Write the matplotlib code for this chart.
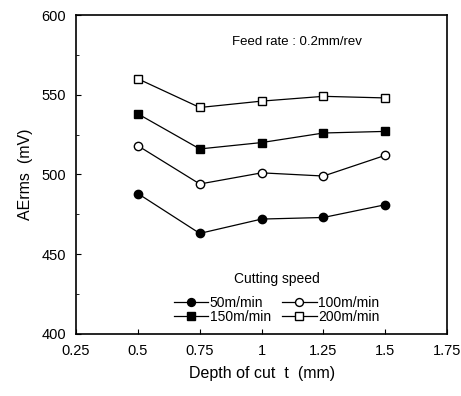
import matplotlib
matplotlib.use("Agg")
import matplotlib.pyplot as plt
from matplotlib.ticker import MultipleLocator

depth = [0.5, 0.75, 1.0, 1.25, 1.5]
ae_50 = [488, 463, 472, 473, 481]
ae_100 = [518, 494, 501, 499, 512]
ae_150 = [538, 516, 520, 526, 527]
ae_200 = [560, 542, 546, 549, 548]
xtick_labels = ["0.25", "0.5", "0.75", "1", "1.25", "1.5", "1.75"]

plt.rcParams["font.family"] = ["Liberation Sans", "DejaVu Sans"]

fig = plt.figure(figsize=(4.61, 3.96), dpi=100)
ax = fig.add_axes([0.165, 0.157, 0.805, 0.805])

kw = dict(color="black", linewidth=0.9, markersize=6)
l50, = ax.plot(depth, ae_50, marker="o", label="50m/min", **kw)
l100, = ax.plot(depth, ae_100, marker="o", markerfacecolor="white", label="100m/min", **kw)
l150, = ax.plot(depth, ae_150, marker="s", label="150m/min", **kw)
l200, = ax.plot(depth, ae_200, marker="s", markerfacecolor="white", label="200m/min", **kw)

ax.set_xlim(0.25, 1.75)
ax.set_ylim(400, 600)
ax.set_xticks([0.25, 0.5, 0.75, 1, 1.25, 1.5, 1.75])
ax.set_xticklabels(xtick_labels)
ax.yaxis.set_major_locator(MultipleLocator(50))
ax.yaxis.set_minor_locator(MultipleLocator(25))
ax.tick_params(direction="in", labelsize=10.5, pad=7)
ax.tick_params(which="minor", direction="in", length=2)
for s in ax.spines.values():
    s.set_linewidth(1.2)

ax.set_xlabel("Depth of cut  t  (mm)", fontsize=11.5, labelpad=6)
ax.set_ylabel("AErms  (mV)", fontsize=11.5, labelpad=6)

ax.text(1.144, 583, "Feed rate : 0.2mm/rev", ha="center", va="center", fontsize=9.5)

handles = [l50, l150, l100, l200]
leg = ax.legend(handles, [h.get_label() for h in handles],
                title="Cutting speed", ncol=2, loc="lower center",
                bbox_to_anchor=(0.54, 0.0), frameon=False, fontsize=10,
                title_fontsize=10, handlelength=2.5, handletextpad=0.1,
                columnspacing=0.8, labelspacing=0.0, borderaxespad=0.3,
                markerscale=0.95)
leg._legend_box.sep = 7

fig.savefig("out.png", dpi=100)
